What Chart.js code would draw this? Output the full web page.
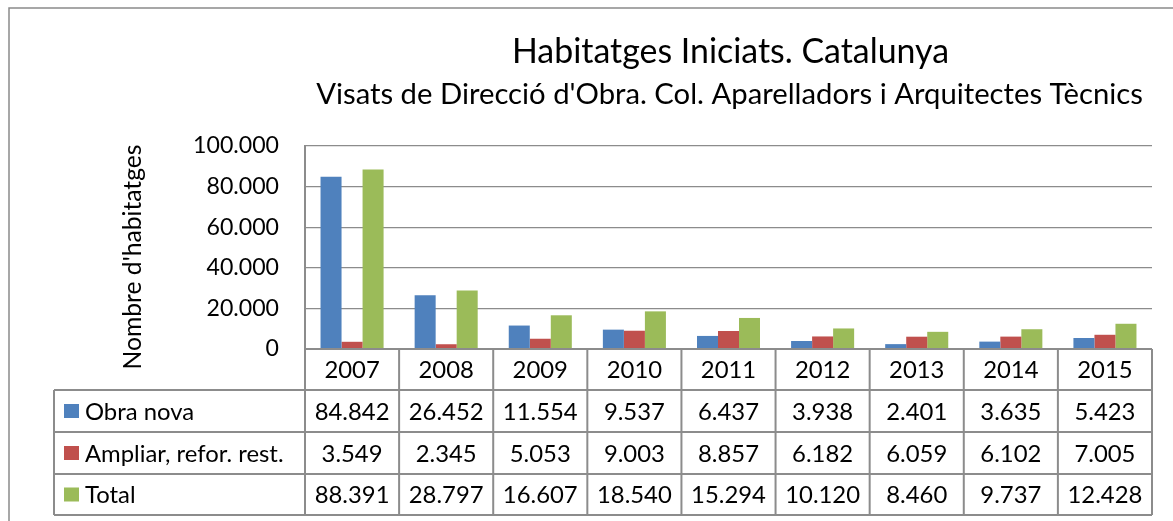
<!DOCTYPE html>
<html>
<head>
<meta charset="utf-8">
<script src="https://cdn.jsdelivr.net/npm/chart.js@4.4.1/dist/chart.umd.min.js"></script>
<style>
  html, body { margin: 0; padding: 0; background: #fff; }
  #wrap { width: 1173px; height: 521px; position: relative; }
</style>
</head>
<body>
<div id="wrap"><canvas id="c" width="1173" height="521"></canvas></div>
<script>
const categories = ['2007','2008','2009','2010','2011','2012','2013','2014','2015'];
const obraNova   = [84842, 26452, 11554, 9537, 6437, 3938, 2401, 3635, 5423];
const ampliar    = [3549, 2345, 5053, 9003, 8857, 6182, 6059, 6102, 7005];
const total      = [88391, 28797, 16607, 18540, 15294, 10120, 8460, 9737, 12428];
const seriesNames = ['Obra nova', 'Ampliar, refor. rest.', 'Total'];
const yTicks = [0, 20000, 40000, 60000, 80000, 100000];
const titleText = 'Habitatges Iniciats. Catalunya';
const subtitleText = "Visats de Direcció d'Obra. Col. Aparelladors i Arquitectes Tècnics";
const yTitleText = "Nombre d'habitatges";

const FAM = 'Lato, "Open Sans", sans-serif';
const COLORS = ['#4F81BD', '#C0504D', '#9BBB59'];
const LINE = '#8c8c8c';

const mctx = document.createElement('canvas').getContext('2d');
function fitPx(text, w) { mctx.font = '100px ' + FAM; return 100 * w / mctx.measureText(text).width; }
function fmt(v) { return String(v).replace(/\B(?=(\d{3})+(?!\d))/g, '.'); }

const titlePx = fitPx(titleText, 437);
const subPx = fitPx(subtitleText, 827);
const tickPx = fitPx('100.000', 86);
const yTitlePx = fitPx(yTitleText, 225);
const tablePx = (fitPx('Ampliar, refor. rest.', 212) + fitPx('84.842', 73) + fitPx('2007', 53)) / 3;

const series = [obraNova, ampliar, total];

const decor = {
  id: 'decor',
  afterDraw(chart) {
    const ctx = chart.ctx;
    const ca = chart.chartArea;
    const xs = chart.scales.x;
    const n = categories.length;
    const cw = (ca.right - ca.left) / n;
    ctx.save();
    // outer frame
    ctx.strokeStyle = '#8a8a8a';
    ctx.lineWidth = 1.5;
    ctx.beginPath();
    ctx.moveTo(9, 521); ctx.lineTo(9, 8); ctx.lineTo(1173, 8);
    ctx.stroke();

    // titles
    const cx = (ca.left + ca.right) / 2;
    ctx.fillStyle = '#000';
    ctx.textAlign = 'center';
    ctx.textBaseline = 'alphabetic';
    ctx.font = titlePx.toFixed(2) + 'px ' + FAM;
    ctx.fillText(titleText, cx + 2, 63);
    ctx.font = subPx.toFixed(2) + 'px ' + FAM;
    ctx.fillText(subtitleText, cx + 1, 104);

    // y title
    ctx.save();
    ctx.translate(133, 257);
    ctx.rotate(-Math.PI / 2);
    ctx.font = yTitlePx.toFixed(2) + 'px ' + FAM;
    ctx.textBaseline = 'middle';
    ctx.fillText(yTitleText, 0, 0);
    ctx.restore();

    // data table
    const rows = [ca.bottom, 390, 432, 474, 515];
    const tl = 54;
    ctx.strokeStyle = LINE;
    ctx.lineWidth = 2;
    ctx.beginPath();
    // horizontal lines
    ctx.moveTo(ca.left, rows[0]); ctx.lineTo(ca.right, rows[0]);
    for (let i = 1; i < rows.length; i++) { ctx.moveTo(tl, rows[i]); ctx.lineTo(ca.right, rows[i]); }
    // verticals
    ctx.moveTo(tl, rows[1]); ctx.lineTo(tl, rows[4]);
    for (let j = 0; j <= n; j++) {
      const x = ca.left + j * cw;
      ctx.moveTo(x, rows[0]); ctx.lineTo(x, rows[4]);
    }
    ctx.stroke();

    ctx.font = tablePx.toFixed(2) + 'px ' + FAM;
    ctx.textBaseline = 'middle';
    ctx.textAlign = 'center';
    ctx.fillStyle = '#000';
    for (let j = 0; j < n; j++) {
      const x = xs.getPixelForValue(j);
      ctx.fillText(categories[j], x, (rows[0] + rows[1]) / 2 + 1);
      for (let s = 0; s < 3; s++) {
        ctx.fillText(fmt(series[s][j]), x, (rows[s + 1] + rows[s + 2]) / 2 + 1);
      }
    }
    ctx.textAlign = 'left';
    for (let s = 0; s < 3; s++) {
      const yc = (rows[s + 1] + rows[s + 2]) / 2;
      ctx.fillStyle = COLORS[s];
      ctx.fillRect(64, yc - 7, 15, 14);
      ctx.fillStyle = '#000';
      ctx.fillText(seriesNames[s], 85, yc + 1);
    }
    ctx.restore();
  }
};

new Chart(document.getElementById('c'), {
  type: 'bar',
  data: {
    labels: categories,
    datasets: series.map((d, i) => ({
      label: seriesNames[i],
      data: d,
      backgroundColor: COLORS[i],
      borderWidth: 0,
      barPercentage: 1,
      categoryPercentage: 0.67
    }))
  },
  options: {
    responsive: false,
    animation: false,
    events: [],
    layout: { padding: { top: 146, bottom: 172, right: 21, left: 0 } },
    plugins: { legend: { display: false }, title: { display: false }, tooltip: { enabled: false } },
    scales: {
      x: { display: false },
      y: {
        min: 0, max: 100000,
        afterFit(scale) { scale.width = 305; },
        afterBuildTicks(scale) { scale.ticks = yTicks.map(v => ({ value: v })); },
        ticks: {
          padding: 26,
          color: '#000',
          font: { family: FAM, size: tickPx },
          callback: v => fmt(v)
        },
        grid: { color: LINE, lineWidth: 1.3, drawTicks: false },
        border: { display: true, color: LINE, width: 2 }
      }
    }
  },
  plugins: [decor]
});
</script>
</body>
</html>
